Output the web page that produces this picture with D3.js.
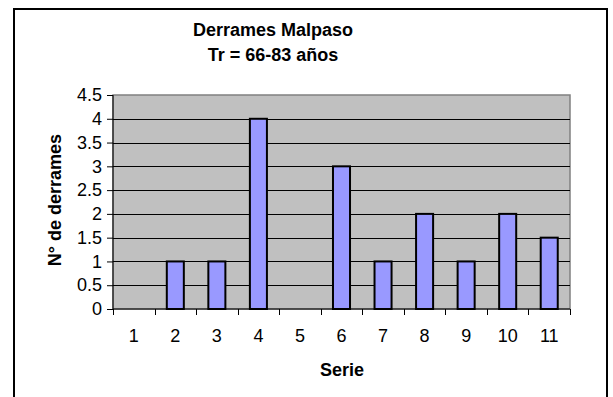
<!DOCTYPE html>
<html>
<head>
<meta charset="utf-8">
<script src="https://cdn.jsdelivr.net/npm/d3@7"></script>
<style>
  html, body { margin: 0; padding: 0; background: #fff; }
  svg { display: block; font-family: "Liberation Sans", Arial, sans-serif; }
</style>
</head>
<body>
<svg id="chart" width="613" height="397"></svg>
<script>
// Number of spills per series
const categories = ["1", "2", "3", "4", "5", "6", "7", "8", "9", "10", "11"];
const values = [0, 1, 1, 4, 0, 3, 1, 2, 1, 2, 1.5];
const yTicks = [0, 0.5, 1, 1.5, 2, 2.5, 3, 3.5, 4, 4.5];
const titleLines = ["Derrames Malpaso", "Tr = 66-83 años"];
const xTitle = "Serie";
const yTitle = "N° de derrames";

const svg = d3.select("#chart");
const plot = { left: 113, right: 570, top: 95, bottom: 309 };
const tickFont = 18;
const titleFont = 18;

// Outer chart frame
svg.append("rect")
  .attr("x", 14).attr("y", 9)
  .attr("width", 593).attr("height", 400)
  .attr("fill", "#fff").attr("stroke", "#000").attr("stroke-width", 2);

const x = d3.scaleBand().domain(categories).range([plot.left, plot.right]);
const y = d3.scaleLinear().domain([0, 4.5]).range([plot.bottom, plot.top]);
const barW = x.bandwidth() * 0.41;

// Plot area background
svg.append("rect")
  .attr("x", plot.left).attr("y", plot.top)
  .attr("width", plot.right - plot.left).attr("height", plot.bottom - plot.top)
  .attr("fill", "#c0c0c0").attr("stroke", "#808080").attr("stroke-width", 1.5);

// Horizontal gridlines
svg.append("g").selectAll("line")
  .data(yTicks.filter(t => t > 0 && t < 4.5))
  .join("line")
  .attr("x1", plot.left).attr("x2", plot.right)
  .attr("y1", d => Math.round(y(d)) + 0.5).attr("y2", d => Math.round(y(d)) + 0.5)
  .attr("stroke", "#000").attr("stroke-width", 1);

// Bars
svg.append("g").selectAll("rect")
  .data(values.map((v, i) => ({ c: categories[i], v })).filter(d => d.v > 0))
  .join("rect")
  .attr("x", d => x(d.c) + (x.bandwidth() - barW) / 2)
  .attr("y", d => y(d.v))
  .attr("width", barW)
  .attr("height", d => y(0) - y(d.v))
  .attr("fill", "#9999ff").attr("stroke", "#000").attr("stroke-width", 2);

// Y axis
const yAxis = svg.append("g")
  .attr("transform", `translate(${plot.left},0)`)
  .call(d3.axisLeft(y).tickValues(yTicks).tickSize(6).tickPadding(5)
    .tickFormat(d => String(d)));
yAxis.select(".domain").attr("stroke", "#000").attr("d", `M0,${plot.top}V${plot.bottom}`);
yAxis.selectAll(".tick line").attr("stroke", "#000");
yAxis.selectAll(".tick text").attr("font-size", tickFont).attr("fill", "#000")
  .attr("font-family", "Liberation Sans, Arial, sans-serif");

// X axis: labels centred on bands, tick marks on band boundaries
const xAxis = svg.append("g")
  .attr("transform", `translate(0,${plot.bottom})`)
  .call(d3.axisBottom(x).tickSize(0).tickPadding(20));
xAxis.select(".domain").attr("stroke", "#000").attr("d", `M${plot.left},0H${plot.right}`);
xAxis.selectAll(".tick text").attr("font-size", tickFont).attr("fill", "#000")
  .attr("font-family", "Liberation Sans, Arial, sans-serif");
const boundaries = categories.map(c => x(c)).concat([x(categories[categories.length - 1]) + x.bandwidth()]);
xAxis.append("g").selectAll("line")
  .data(boundaries)
  .join("line")
  .attr("x1", d => Math.round(d) + 0.5).attr("x2", d => Math.round(d) + 0.5)
  .attr("y1", 0).attr("y2", 6)
  .attr("stroke", "#000");

// Titles
svg.append("g").selectAll("text")
  .data(titleLines)
  .join("text")
  .attr("x", 273).attr("y", (d, i) => 36 + i * 24.5)
  .attr("text-anchor", "middle")
  .attr("font-size", titleFont).attr("font-weight", "bold")
  .text(d => d);

svg.append("text")
  .attr("x", 342).attr("y", 376)
  .attr("text-anchor", "middle")
  .attr("font-size", titleFont).attr("font-weight", "bold")
  .text(xTitle);

svg.append("text")
  .attr("transform", `translate(61,200) rotate(-90)`)
  .attr("text-anchor", "middle")
  .attr("font-size", titleFont).attr("font-weight", "bold")
  .text(yTitle);
</script>
</body>
</html>
